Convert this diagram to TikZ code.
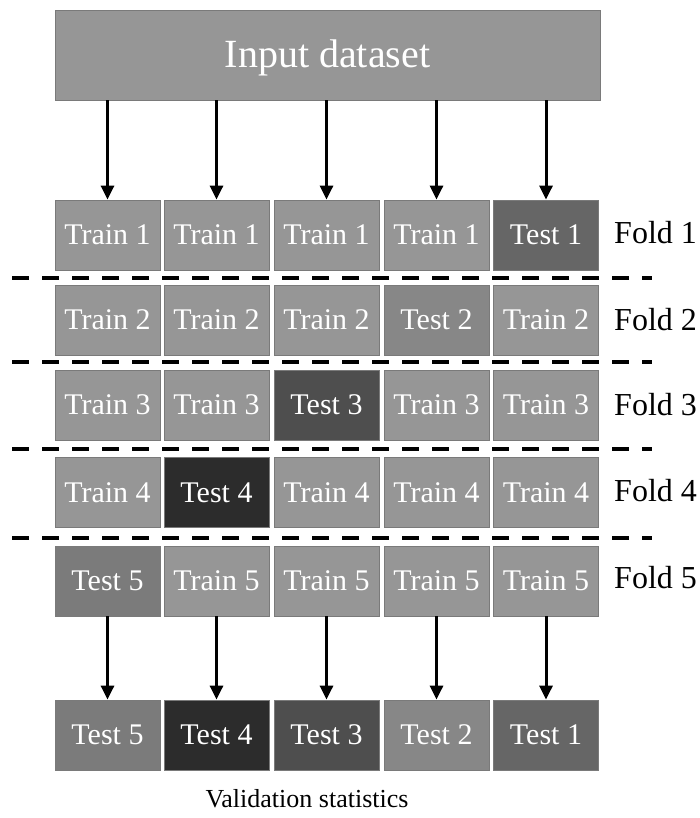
\documentclass[tikz,border=0pt]{standalone}
\usepackage{fontspec}
\setmainfont{Liberation Serif}
\usetikzlibrary{arrows.meta}
\definecolor{trainc}{HTML}{969696}
\definecolor{testa}{HTML}{666666}
\definecolor{testb}{HTML}{878787}
\definecolor{testc}{HTML}{4E4E4E}
\definecolor{testd}{HTML}{2C2C2C}
\definecolor{teste}{HTML}{7B7B7B}
\definecolor{edgec}{HTML}{7A7A7A}
\tikzset{
  cell/.style={draw=edgec, line width=0.8pt, minimum width=105pt, minimum height=70pt, inner sep=0pt, text=white, font=\fontsize{30}{30}\selectfont},
  trainbox/.style={cell, fill=trainc},
  foldlbl/.style={anchor=west, inner sep=0pt, font=\fontsize{32}{32}\selectfont},
  arr/.style={line width=3pt, -{Triangle[width=13pt,length=14pt]}},
  sep/.style={line width=4pt, dash pattern=on 17pt off 13pt}
}
\begin{document}
\begin{tikzpicture}[x=1pt,y=-1pt]
\useasboundingbox (0,0) rectangle (699,818);
\node[draw=edgec, line width=0.8pt, fill=trainc, minimum width=545pt, minimum height=90pt, inner sep=0pt] (input) at (327.5,55) {};
\node[text=white, inner sep=0pt, font=\fontsize{40}{40}\selectfont] (inputlbl) at (327.5,58) {Input dataset};
% row 1
\node[trainbox] (r1c1) at (107.5,235) {Train 1};
\node[trainbox] (r1c2) at (216.5,235) {Train 1};
\node[trainbox] (r1c3) at (326.5,235) {Train 1};
\node[trainbox] (r1c4) at (436.5,235) {Train 1};
\node[cell, fill=testa] (r1c5) at (546,235) {Test 1};
% row 2
\node[trainbox] (r2c1) at (107.5,320) {Train 2};
\node[trainbox] (r2c2) at (216.5,320) {Train 2};
\node[trainbox] (r2c3) at (326.5,320) {Train 2};
\node[cell, fill=testb] (r2c4) at (436.5,320) {Test 2};
\node[trainbox] (r2c5) at (546,320) {Train 2};
% row 3
\node[trainbox] (r3c1) at (107.5,405) {Train 3};
\node[trainbox] (r3c2) at (216.5,405) {Train 3};
\node[cell, fill=testc] (r3c3) at (326.5,405) {Test 3};
\node[trainbox] (r3c4) at (436.5,405) {Train 3};
\node[trainbox] (r3c5) at (546,405) {Train 3};
% row 4
\node[trainbox] (r4c1) at (107.5,492.5) {Train 4};
\node[cell, fill=testd] (r4c2) at (216.5,492.5) {Test 4};
\node[trainbox] (r4c3) at (326.5,492.5) {Train 4};
\node[trainbox] (r4c4) at (436.5,492.5) {Train 4};
\node[trainbox] (r4c5) at (546,492.5) {Train 4};
% row 5
\node[cell, fill=teste] (r5c1) at (107.5,581) {Test 5};
\node[trainbox] (r5c2) at (216.5,581) {Train 5};
\node[trainbox] (r5c3) at (326.5,581) {Train 5};
\node[trainbox] (r5c4) at (436.5,581) {Train 5};
\node[trainbox] (r5c5) at (546,581) {Train 5};
% bottom row
\node[cell, fill=teste] (b1) at (107.5,735) {Test 5};
\node[cell, fill=testd] (b2) at (216.5,735) {Test 4};
\node[cell, fill=testc] (b3) at (326.5,735) {Test 3};
\node[cell, fill=testb] (b4) at (436.5,735) {Test 2};
\node[cell, fill=testa] (b5) at (546,735) {Test 1};
% fold labels
\node[foldlbl] (f1) at (614,233) {Fold 1};
\node[foldlbl] (f2) at (614,320) {Fold 2};
\node[foldlbl] (f3) at (614,405) {Fold 3};
\node[foldlbl] (f4) at (614,491) {Fold 4};
\node[foldlbl] (f5) at (614,578) {Fold 5};
\node[font=\fontsize{26}{26}\selectfont, inner sep=0pt] (val) at (307,799) {Validation statistics};
% arrows
\foreach \j in {1,...,5} {
  \draw[arr] (input.south -| r1c\j) -- (r1c\j.north);
  \draw[arr] (r5c\j.south) -- (b\j.north);
}
% separators
\draw[sep] (12,278) -- (652,278);
\draw[sep] (12,362) -- (652,362);
\draw[sep] (12,449) -- (652,449);
\draw[sep] (12,538) -- (652,538);
\end{tikzpicture}
\end{document}
